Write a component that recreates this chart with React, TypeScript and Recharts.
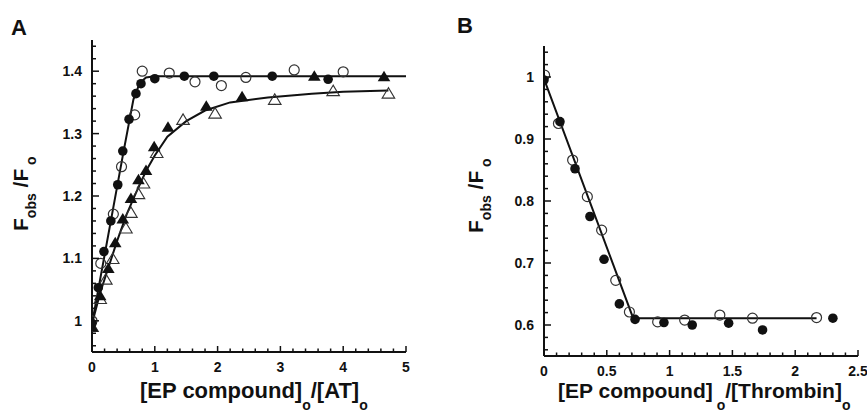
import { ScatterChart, Scatter, XAxis, YAxis } from "recharts";

// Panel A: fluorescence enhancement vs [EP compound]o/[AT]o
const aFilledCircleX = [0, 0.1, 0.19, 0.3, 0.41, 0.49, 0.59, 0.7, 0.78, 1.0, 1.47, 1.94, 2.87, 3.76];
const aFilledCircleY = [0.996, 1.053, 1.111, 1.16, 1.218, 1.272, 1.323, 1.364, 1.38, 1.388, 1.392, 1.392, 1.392, 1.387];
const aOpenCircleX = [0, 0.14, 0.34, 0.47, 0.68, 0.8, 1.23, 1.64, 2.06, 2.45, 3.22, 4.0];
const aOpenCircleY = [1.0, 1.092, 1.171, 1.247, 1.33, 1.4, 1.397, 1.383, 1.377, 1.39, 1.402, 1.399];
const aFilledTriX = [0, 0.13, 0.26, 0.37, 0.49, 0.62, 0.74, 0.86, 0.99, 1.21, 1.82, 2.39, 3.54, 4.65];
const aFilledTriY = [0.99, 1.04, 1.084, 1.125, 1.163, 1.196, 1.226, 1.241, 1.279, 1.31, 1.344, 1.359, 1.392, 1.391];
const aOpenTriX = [0, 0.13, 0.22, 0.33, 0.54, 0.62, 0.74, 0.82, 1.03, 1.45, 1.96, 2.91, 3.84, 4.72];
const aOpenTriY = [0.99, 1.035, 1.066, 1.099, 1.148, 1.173, 1.203, 1.22, 1.269, 1.322, 1.332, 1.354, 1.368, 1.364];
// fitted curves
const aFit1X = [0, 0.5, 0.66, 0.76, 0.86, 1.0, 5.0];
const aFit1Y = [0.995, 1.27, 1.355, 1.381, 1.39, 1.392, 1.392];
const aFit2X = [0, 0.13, 0.26, 0.4, 0.55, 0.7, 0.86, 1.0, 1.2, 1.5, 1.8, 2.2, 2.8, 3.5, 4.0, 4.72];
const aFit2Y = [0.995, 1.045, 1.085, 1.128, 1.17, 1.205, 1.24, 1.265, 1.295, 1.32, 1.337, 1.35, 1.358, 1.364, 1.367, 1.369];

// Panel B: [EP compound]o/[Thrombin]o
const bFilledX = [0, 0.127, 0.247, 0.366, 0.478, 0.6, 0.725, 0.955, 1.18, 1.47, 1.74, 2.3];
const bFilledY = [0.995, 0.928, 0.852, 0.775, 0.706, 0.634, 0.609, 0.604, 0.6, 0.603, 0.592, 0.611];
const bOpenX = [0.005, 0.115, 0.228, 0.345, 0.459, 0.571, 0.68, 0.905, 1.12, 1.4, 1.66, 2.17];
const bOpenY = [1.003, 0.925, 0.866, 0.807, 0.753, 0.672, 0.621, 0.605, 0.608, 0.616, 0.611, 0.612];
const bFitX = [0, 0.71, 2.17];
const bFitY = [0.997, 0.611, 0.611];

// ticks (minor + labelled)
const aXTicks = [0, 0.2, 0.4, 0.6, 0.8, 1, 1.2, 1.4, 1.6, 1.8, 2, 2.2, 2.4, 2.6, 2.8, 3, 3.2, 3.4, 3.6, 3.8, 4, 4.2, 4.4, 4.6, 4.8, 5];
const aXLabels = [0, 1, 2, 3, 4, 5];
const aYTicks = [0.96, 0.98, 1, 1.02, 1.04, 1.06, 1.08, 1.1, 1.12, 1.14, 1.16, 1.18, 1.2, 1.22, 1.24, 1.26, 1.28, 1.3, 1.32, 1.34, 1.36, 1.38, 1.4, 1.42, 1.44];
const aYLabels = [1, 1.1, 1.2, 1.3, 1.4];
const bXTicks = [0, 0.1, 0.2, 0.3, 0.4, 0.5, 0.6, 0.7, 0.8, 0.9, 1, 1.1, 1.2, 1.3, 1.4, 1.5, 1.6, 1.7, 1.8, 1.9, 2, 2.1, 2.2, 2.3, 2.4, 2.5];
const bXLabels = [0, 0.5, 1, 1.5, 2, 2.5];
const bYTicks = [0.56, 0.58, 0.6, 0.62, 0.64, 0.66, 0.68, 0.7, 0.72, 0.74, 0.76, 0.78, 0.8, 0.82, 0.84, 0.86, 0.88, 0.9, 0.92, 0.94, 0.96, 0.98, 1, 1.02, 1.04];
const bYLabels = [0.6, 0.7, 0.8, 0.9, 1];

const zip = (xs: number[], ys: number[]) => xs.map((x, i) => ({ x, y: ys[i] }));

const INK = "#111";
const FONT = "'Liberation Sans', Arial, Helvetica, sans-serif";

const FilledCircle = (p: any) => <circle cx={p.cx} cy={p.cy} r={4.8} fill={INK} />;
const OpenCircle = (p: any) => (
  <circle cx={p.cx} cy={p.cy} r={5} fill="none" stroke="#333" strokeWidth={1.2} />
);
const triPts = (cx: number, cy: number) =>
  `${cx},${cy - 6} ${cx - 6.3},${cy + 4.5} ${cx + 6.3},${cy + 4.5}`;
const FilledTri = (p: any) => <polygon points={triPts(p.cx, p.cy)} fill={INK} />;
const OpenTri = (p: any) => (
  <polygon points={triPts(p.cx, p.cy)} fill="none" stroke="#333" strokeWidth={1.1} />
);
const NoDot = () => <g />;

const makeXTick = (labels: number[]) => (props: any) => {
  const { x, y, payload } = props;
  const major = labels.includes(payload.value);
  return (
    <g>
      <line x1={x} x2={x} y1={y} y2={y - (major ? 6 : 3.5)} stroke={INK} strokeWidth={1.5} />
      {major && (
        <text x={x} y={y + 20} textAnchor="middle" fontSize={14} fontWeight="bold" fontFamily={FONT} fill={INK}>
          {String(payload.value)}
        </text>
      )}
    </g>
  );
};

const makeYTick = (labels: number[]) => (props: any) => {
  const { x, y, payload } = props;
  const major = labels.includes(payload.value);
  return (
    <g>
      <line x1={x} x2={x + (major ? 7 : 4)} y1={y} y2={y} stroke={INK} strokeWidth={1.5} />
      {major && (
        <text x={x - 10} y={y + 5} textAnchor="end" fontSize={14} fontWeight="bold" fontFamily={FONT} fill={INK}>
          {String(payload.value)}
        </text>
      )}
    </g>
  );
};

const axisLine = { stroke: INK, strokeWidth: 2 };
const fitLine = { stroke: INK, strokeWidth: 2 };

function PanelA() {
  return (
    <ScatterChart width={440} height={414} margin={{ top: 40, right: 34, bottom: 0, left: 0 }}>
      <XAxis
        type="number"
        dataKey="x"
        domain={[0, 5]}
        ticks={aXTicks}
        interval={0}
        height={62}
        tickSize={0}
        tickMargin={0}
        axisLine={axisLine}
        tickLine={false}
        tick={makeXTick(aXLabels)}
        allowDataOverflow
      />
      <YAxis
        type="number"
        dataKey="y"
        domain={[0.95, 1.45]}
        ticks={aYTicks}
        interval={0}
        width={92}
        tickSize={0}
        tickMargin={0}
        axisLine={axisLine}
        tickLine={false}
        tick={makeYTick(aYLabels)}
        allowDataOverflow
      />
      <Scatter data={zip(aFit1X, aFit1Y)} line={fitLine} shape={NoDot} isAnimationActive={false} />
      <Scatter data={zip(aFit2X, aFit2Y)} line={fitLine} shape={NoDot} isAnimationActive={false} />
      <Scatter data={zip(aOpenTriX, aOpenTriY)} shape={OpenTri} isAnimationActive={false} />
      <Scatter data={zip(aOpenCircleX, aOpenCircleY)} shape={OpenCircle} isAnimationActive={false} />
      <Scatter data={zip(aFilledTriX, aFilledTriY)} shape={FilledTri} isAnimationActive={false} />
      <Scatter data={zip(aFilledCircleX, aFilledCircleY)} shape={FilledCircle} isAnimationActive={false} />
    </ScatterChart>
  );
}

function PanelB() {
  return (
    <ScatterChart width={427} height={414} margin={{ top: 46, right: 9, bottom: 0, left: 0 }}>
      <XAxis
        type="number"
        dataKey="x"
        domain={[0, 2.5]}
        ticks={bXTicks}
        interval={0}
        height={58}
        tickSize={0}
        tickMargin={0}
        axisLine={axisLine}
        tickLine={false}
        tick={makeXTick(bXLabels)}
        allowDataOverflow
      />
      <YAxis
        type="number"
        dataKey="y"
        domain={[0.55, 1.05]}
        ticks={bYTicks}
        interval={0}
        width={104}
        tickSize={0}
        tickMargin={0}
        axisLine={axisLine}
        tickLine={false}
        tick={makeYTick(bYLabels)}
        allowDataOverflow
      />
      <Scatter data={zip(bFitX, bFitY)} line={fitLine} shape={NoDot} isAnimationActive={false} />
      <Scatter data={zip(bOpenX, bOpenY)} shape={OpenCircle} isAnimationActive={false} />
      <Scatter data={zip(bFilledX, bFilledY)} shape={FilledCircle} isAnimationActive={false} />
    </ScatterChart>
  );
}

const txt = { fontFamily: FONT, fontWeight: "bold" as const, fill: INK };

export default function App() {
  return (
    <div style={{ position: "absolute", left: 0, top: 0, width: 867, height: 414, background: "#fff", overflow: "hidden" }}>
      <div style={{ position: "absolute", left: 0, top: 0 }}>
        <PanelA />
      </div>
      <div style={{ position: "absolute", left: 440, top: 0 }}>
        <PanelB />
      </div>
      <svg width={867} height={414} style={{ position: "absolute", left: 0, top: 0, pointerEvents: "none" }}>
        <text x={11} y={35} fontSize={22} {...txt}>A</text>
        <text x={457} y={33} fontSize={22} {...txt}>B</text>

        <text transform="translate(28,231) rotate(-90)" fontSize={21} {...txt}>
          F<tspan dy={8} fontSize={14}>obs</tspan>
          <tspan dy={-8}> /F</tspan>
          <tspan dy={8} fontSize={14}> o</tspan>
        </text>
        <text transform="translate(483,233) rotate(-90)" fontSize={21} {...txt}>
          F<tspan dy={8} fontSize={14}>obs</tspan>
          <tspan dy={-8}> /F</tspan>
          <tspan dy={8} fontSize={14}> o</tspan>
        </text>

        <text x={140} y={398} fontSize={22} {...txt}>
          [EP compound]<tspan dy={12} fontSize={14}>o</tspan>
          <tspan dy={-12}>/[AT]</tspan>
          <tspan dy={12} fontSize={14}>o</tspan>
        </text>
        <text x={558} y={398} fontSize={21} {...txt}>
          [EP compound]<tspan dy={12} fontSize={14}> o</tspan>
          <tspan dy={-12}>/[Thrombin]</tspan>
          <tspan dy={12} fontSize={14}>o</tspan>
        </text>
      </svg>
    </div>
  );
}
